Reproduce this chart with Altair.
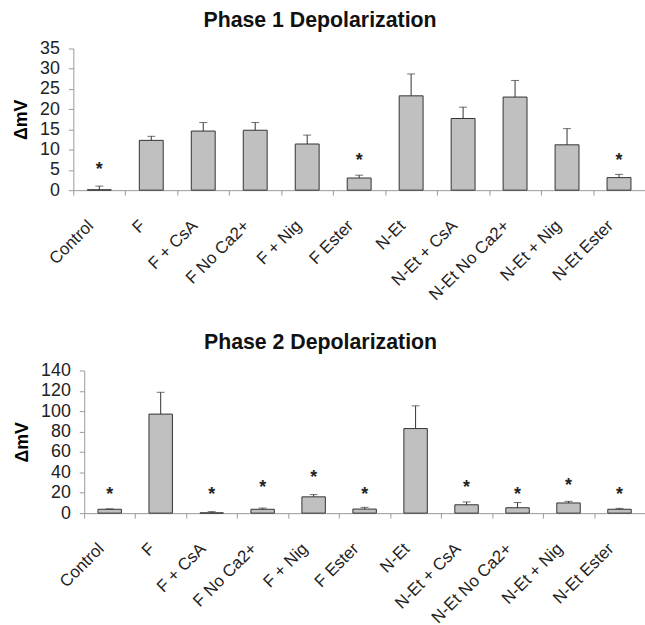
import altair as alt
import pandas as pd

categories = ["Control", "F", "F + CsA", "F No Ca2+", "F + Nig", "F Ester",
              "N-Et", "N-Et + CsA", "N-Et No Ca2+", "N-Et + Nig", "N-Et Ester"]

p1_mean = [0.1, 12.3, 14.6, 14.8, 11.4, 3.0, 23.3, 17.7, 23.0, 11.2, 3.1]
p1_err_top = [1.0, 13.3, 16.7, 16.7, 13.6, 3.7, 28.7, 20.5, 27.1, 15.2, 3.9]
p1_star = [5.8, None, None, None, None, 8.0, None, None, None, None, 8.0]

p2_mean = [3.8, 97.2, 0.3, 3.8, 16.0, 4.0, 83.0, 8.2, 5.3, 10.0, 3.8]
p2_err_top = [4.2, 118.6, 1.5, 5.0, 18.2, 5.7, 105.3, 11.0, 10.4, 11.6, 4.7]
p2_star = [21, None, 21, 28, 37, 21, None, 28, 21, 30, 21]

FONT = "Liberation Sans"


def panel(mean, err, star, ymax, ystep, title, width, height, shift, title_dx):
    df = pd.DataFrame({"cat": categories, "mean": mean, "err": err, "star": star})
    step = (width - shift) / len(categories)
    scale_kw = dict(paddingInner=0.54, paddingOuter=0.27)
    if shift:
        scale_kw["range"] = [shift, width]
    x = alt.X(
        "cat:N", sort=categories, title=None,
        scale=alt.Scale(**scale_kw),
        axis=alt.Axis(labelAngle=-45, labelAlign="right", labelBaseline="middle",
                      labelFontSize=17, labelPadding=28, tickSize=5,
                      tickOffset=-step / 2, labelOffset=step / 2 - 9,
                      labelColor="#222", domainColor="#999", tickColor="#999"),
    )
    yscale = alt.Scale(domain=[0, ymax], nice=False)
    yaxis = alt.Axis(values=list(range(0, ymax + 1, ystep)), grid=False, tickSize=5,
                     labelOverlap=False, labelFontSize=18, labelPadding=9,
                     title="ΔmV", titleFontSize=18, offset=-shift,
                     titleFontWeight="bold", titlePadding=9, labelColor="#222",
                     domainColor="#999", tickColor="#999")
    base = alt.Chart(df).encode(x=x)
    bars = base.mark_bar(color="#c0c0c0", stroke="#333", strokeWidth=1).encode(
        y=alt.Y("mean:Q", scale=yscale, axis=yaxis))
    rule = base.mark_rule(color="#333", strokeWidth=1).encode(
        y=alt.Y("mean:Q", scale=yscale, axis=yaxis), y2="err:Q")
    cap = base.mark_tick(color="#333", size=8, thickness=1, orient="horizontal").encode(
        y=alt.Y("err:Q", scale=yscale, axis=yaxis))
    stars = base.transform_filter("isValid(datum.star)").mark_text(
        text="*", fontSize=18, fontWeight="bold", color="#222", baseline="middle",
        font=FONT, dy=3).encode(y=alt.Y("star:Q", scale=yscale, axis=yaxis))
    return alt.layer(bars, rule, cap, stars).properties(
        width=width, height=height,
        title=alt.TitleParams(title, fontSize=21.5, fontWeight="bold", font=FONT,
                              anchor="middle", frame="bounds", color="#111",
                              offset=8, dx=title_dx),
    )


c1 = panel(p1_mean, p1_err_top, p1_star, 35, 5, "Phase 1 Depolarization", 577, 143, 0, -9)
c2 = panel(p2_mean, p2_err_top, p2_star, 140, 20, "Phase 2 Depolarization", 577, 144, 11, -9)

chart = alt.vconcat(c1, c2, spacing=29).properties(
    padding={"left": 12, "top": 7, "right": 0, "bottom": 0}
).configure_view(stroke=None).configure_axis(
    labelFont=FONT, titleFont=FONT
).configure_title(font=FONT)

chart.save("out.html", embed_options={"renderer": "svg", "actions": False})
